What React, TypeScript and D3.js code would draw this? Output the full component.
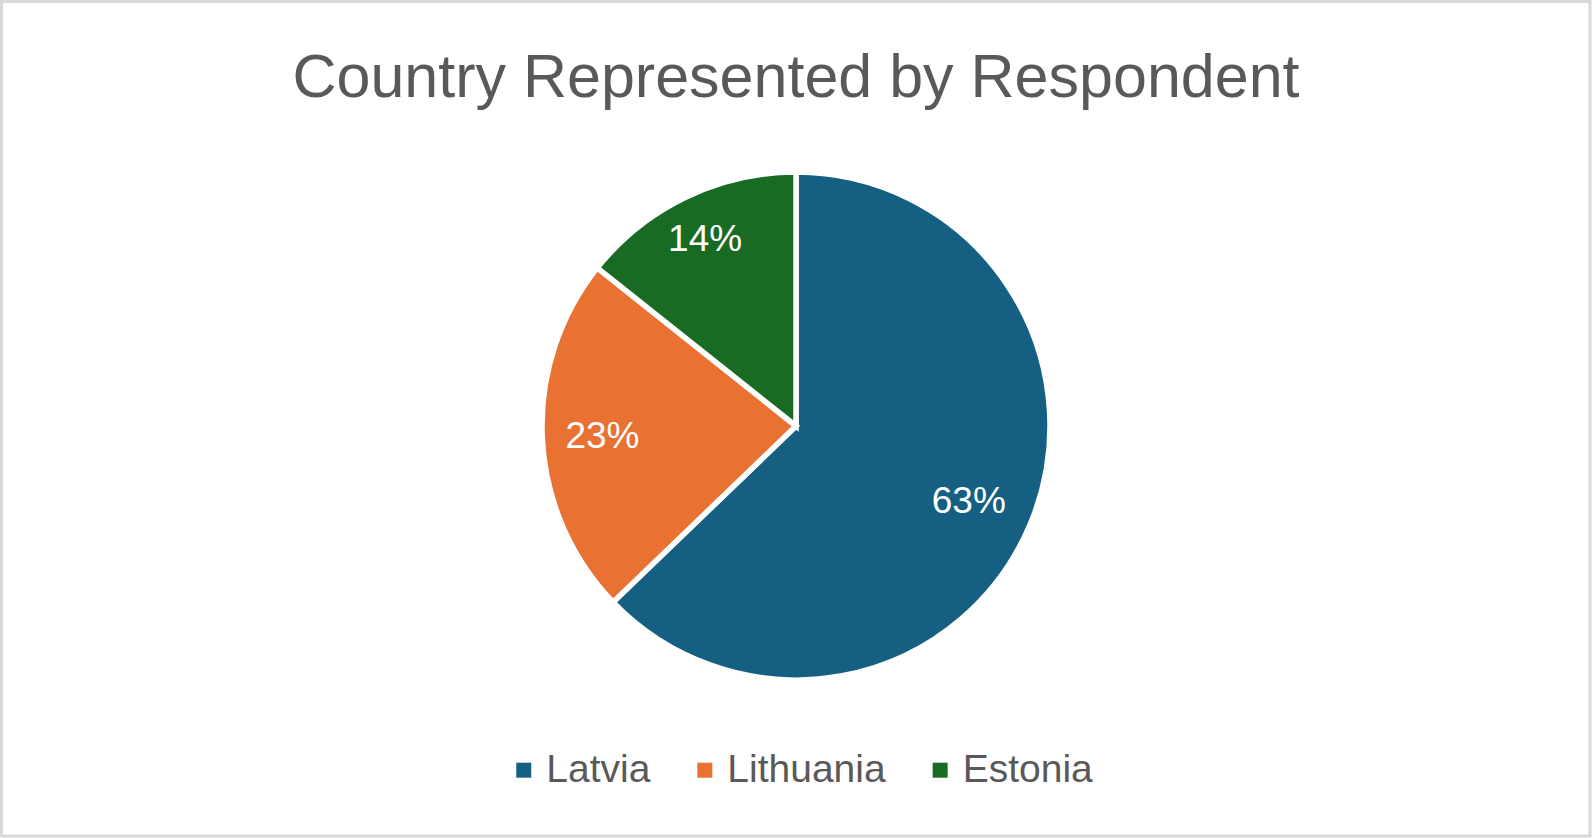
import { useEffect, useRef } from 'react';
import * as d3 from 'd3';

const countries = ['Latvia', 'Lithuania', 'Estonia'];
const shares = [62.8, 22.9, 14.3];
const colors = ['#156082', '#E97132', '#196B24'];
// how far out each data label sits, as a fraction of the radius (Excel "best fit")
const labelRadius = [0.748, 0.772, 0.834];

const title = 'Country Represented by Respondent';

export default function App() {
  const svgRef = useRef<SVGSVGElement | null>(null);

  useEffect(() => {
    const svgElement = svgRef.current;
    if (!svgElement) return;

    const width = 1592;
    const height = 838;
    const cx = 796;
    const cy = 426;
    const radius = 254;
    const font = '"Liberation Sans", Arial, sans-serif';

    const svg = d3.select(svgElement);
    svg.selectAll('*').remove();
    svg.attr('width', width).attr('height', height).attr('viewBox', `0 0 ${width} ${height}`);

    svg.append('rect')
      .attr('x', 1.5).attr('y', 1.5)
      .attr('width', width - 3.5).attr('height', height - 3.5)
      .attr('fill', '#ffffff')
      .attr('stroke', '#D9D9D9')
      .attr('stroke-width', 3);

    svg.append('text')
      .attr('x', cx).attr('y', 97)
      .attr('text-anchor', 'middle')
      .attr('font-family', font)
      .attr('font-size', 61)
      .attr('fill', '#595959')
      .text(title);

    const rows = countries.map((name, i) => ({ name, value: shares[i], color: colors[i], lr: labelRadius[i] }));
    const pie = d3.pie<typeof rows[number]>().value((d) => d.value).sort(null);
    const arcs = pie(rows);
    const arc = d3.arc<d3.PieArcDatum<typeof rows[number]>>().innerRadius(0).outerRadius(radius);

    const chart = svg.append('g').attr('transform', `translate(${cx},${cy})`);
    chart.selectAll('path')
      .data(arcs)
      .join('path')
      .attr('d', arc)
      .attr('fill', (d) => d.data.color)
      .attr('stroke', '#ffffff')
      .attr('stroke-width', 5.5)
      .attr('stroke-linejoin', 'miter');

    const labelSize = 37;
    chart.selectAll('text.label')
      .data(arcs)
      .join('text')
      .attr('class', 'label')
      .attr('transform', (d) => {
        const r = 251 * d.data.lr;
        const [x, y] = d3.arc<d3.PieArcDatum<typeof rows[number]>>().innerRadius(r).outerRadius(r).centroid(d);
        return `translate(${x},${y + labelSize * 0.358})`;
      })
      .attr('text-anchor', 'middle')
      .attr('font-family', font)
      .attr('font-size', labelSize)
      .attr('fill', '#ffffff')
      .text((d) => `${Math.round(d.data.value)}%`);

    // legend: measure text, then center the row
    const legendSize = 39;
    const swatch = 15;
    const swatchGap = 15;
    const itemGap = 47;
    const legend = svg.append('g');
    const items = legend.selectAll('g')
      .data(rows)
      .join('g');
    items.append('rect')
      .attr('width', swatch).attr('height', swatch)
      .attr('y', 762.7)
      .attr('fill', (d) => d.color);
    items.append('text')
      .attr('x', swatch + swatchGap)
      .attr('y', 782)
      .attr('font-family', font)
      .attr('font-size', legendSize)
      .attr('fill', '#595959')
      .text((d) => d.name);

    const widths: number[] = [];
    items.select<SVGTextElement>('text').each(function () {
      widths.push(swatch + swatchGap + this.getComputedTextLength());
    });
    const total = d3.sum(widths) + itemGap * (widths.length - 1);
    let x = 804.5 - total / 2;
    items.attr('transform', (_, i) => {
      const t = `translate(${x},0)`;
      x += widths[i] + itemGap;
      return t;
    });
  }, []);

  return (
    <svg ref={svgRef} style={{ position: 'absolute', left: 0, top: 0, display: 'block' }} role="img" aria-label={title} />
  );
}
